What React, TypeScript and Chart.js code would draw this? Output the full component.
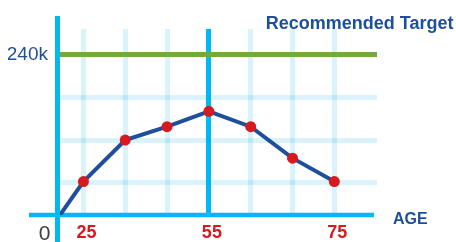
import React, { useEffect, useRef } from "react";
import { Chart, registerables } from "chart.js";

Chart.register(...registerables);

// ---- data ----
const ageLabels = ["25", "", "", "55", "", "", "75"];
const savingsK = [50, 112, 132, 155, 132, 85, 50];
const targetK = 240;
const yGridK = [48, 112, 176];
const highlightAge = "55";
const targetLabel = "Recommended Target";
const xAxisLabel = "AGE";
const zeroLabel = "0";

const X_MIN = -0.56;
const X_MAX = 7.02;
const Y_MAX = 278;

const BRIGHT = "#00b9f1";
const LIGHT = "rgba(0, 165, 230, 0.15)";
const GREEN = "#72ab3b";
const NAVY = "#1d4f9b";
const RED = "#d71920";
const FONT = "'Liberation Sans', Arial, sans-serif";

const axesPlugin = {
  id: "axesPlugin",
  beforeDatasetsDraw(chart: any) {
    const { ctx, chartArea } = chart;
    const y0 = chart.scales.y.getPixelForValue(0);
    ctx.save();
    ctx.strokeStyle = BRIGHT;
    ctx.lineCap = "butt";
    ctx.lineWidth = 4.5;
    ctx.beginPath();
    ctx.moveTo(chartArea.left - 31, y0);
    ctx.lineTo(chartArea.right - 3, y0);
    ctx.stroke();
    ctx.lineWidth = 5;
    ctx.beginPath();
    ctx.moveTo(chartArea.left - 2.5, chartArea.top - 13);
    ctx.lineTo(chartArea.left - 2.5, chart.height);
    ctx.stroke();
    ctx.restore();
  },
  afterDraw(chart: any) {
    const { ctx, chartArea } = chart;
    const y0 = chart.scales.y.getPixelForValue(0);
    ctx.save();
    ctx.fillStyle = NAVY;
    ctx.font = `bold 18px ${FONT}`;
    ctx.textAlign = "right";
    ctx.textBaseline = "alphabetic";
    ctx.fillText(targetLabel, chart.width - 2.5, chartArea.top + 0.3);
    ctx.font = `bold 16px ${FONT}`;
    ctx.textAlign = "left";
    ctx.fillText(xAxisLabel, chartArea.right + 16, y0 + 9.3);
    ctx.fillStyle = "#3f3f3f";
    ctx.font = `21px ${FONT}`;
    ctx.textAlign = "center";
    ctx.fillText(zeroLabel, chartArea.left - 15.5, y0 + 24.5);
    ctx.restore();
  },
};

export default function App() {
  const ref = useRef<HTMLCanvasElement | null>(null);

  useEffect(() => {
    if (!ref.current) return;
    const points = [
      { x: X_MIN, y: 0 },
      ...savingsK.map((v, i) => ({ x: i, y: v })),
    ];
    const chart = new Chart(ref.current, {
      type: "line",
      data: {
        datasets: [
          {
            data: points,
            borderColor: NAVY,
            borderWidth: 4,
            pointRadius: points.map((_, i) => (i === 0 ? 0 : 5.5)),
            pointBackgroundColor: RED,
            pointBorderWidth: 0,
            tension: 0,
          },
        ],
      },
      options: {
        animation: false,
        responsive: false,
        devicePixelRatio: 1,
        layout: { padding: { left: 8, top: 29, right: 79, bottom: 0 } },
        plugins: { legend: { display: false }, tooltip: { enabled: false } },
        scales: {
          x: {
            type: "linear",
            min: X_MIN,
            max: X_MAX,
            afterBuildTicks: (scale: any) => {
              scale.ticks = ageLabels.map((_, i) => ({ value: i }));
            },
            afterFit: (scale: any) => {
              scale.height = 27;
            },
            border: { display: false },
            grid: {
              drawTicks: false,
              lineWidth: 5,
              color: (c: any) =>
                ageLabels[c.tick?.value] === highlightAge ? BRIGHT : LIGHT,
            },
            ticks: {
              autoSkip: false,
              maxRotation: 0,
              padding: 7,
              labelOffset: 3,
              color: RED,
              font: { family: FONT, size: 18, weight: "bold" },
              callback: (v: any) => ageLabels[Math.round(v)] ?? "",
            },
          },
          y: {
            type: "linear",
            min: 0,
            max: Y_MAX,
            afterBuildTicks: (scale: any) => {
              scale.ticks = [...yGridK, targetK].map((v) => ({ value: v }));
            },
            afterFit: (scale: any) => {
              scale.width = 52;
            },
            border: { display: false },
            grid: {
              drawTicks: false,
              lineWidth: 5,
              color: (c: any) => (c.tick?.value === targetK ? GREEN : LIGHT),
            },
            ticks: {
              padding: 12,
              color: NAVY,
              font: { family: FONT, size: 19 },
              callback: (v: any) => (v === targetK ? `${targetK}k` : ""),
            },
          },
        },
      },
      plugins: [axesPlugin],
    } as any);
    return () => chart.destroy();
  }, []);

  return (
    <div style={{ position: "fixed", left: 0, top: 0, width: 456, height: 242, background: "#fff" }}>
      <canvas ref={ref} width={456} height={242} />
    </div>
  );
}
